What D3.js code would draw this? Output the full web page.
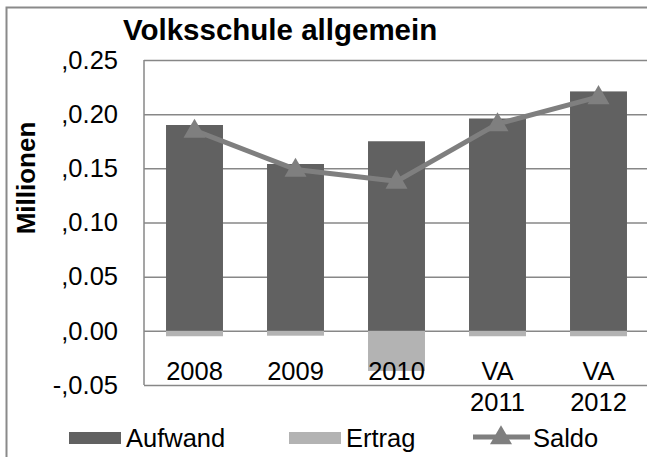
<!DOCTYPE html>
<html>
<head>
<meta charset="utf-8">
<script src="https://cdn.jsdelivr.net/npm/d3@7"></script>
<style>
  html, body { margin: 0; padding: 0; background: #fff; }
  svg { display: block; font-family: "Liberation Sans", Arial, sans-serif; }
</style>
</head>
<body>
<svg id="chart" width="647" height="457"></svg>
<script>
// ---- data ----
const categories = [["2008"], ["2009"], ["2010"], ["VA", "2011"], ["VA", "2012"]];
const aufwand = [0.190, 0.154, 0.175, 0.196, 0.221];
const ertrag = [-0.005, -0.0045, -0.037, -0.005, -0.005];
const saldo = [0.185, 0.149, 0.138, 0.191, 0.216];
const yTickValues = [-0.05, 0, 0.05, 0.10, 0.15, 0.20, 0.25];
const yTickLabels = ["-,0.05", ",0.00", ",0.05", ",0.10", ",0.15", ",0.20", ",0.25"];
const seriesNames = ["Aufwand", "Ertrag", "Saldo"];
const chartTitle = "Volksschule allgemein";
const yTitle = "Millionen";

// ---- layout ----
const svg = d3.select("#chart");
const plot = { left: 144, right: 649, top: 60, bottom: 385 };
const colAuf = "#616161", colErt = "#b3b3b3", colSaldo = "#7f7f7f", colGrid = "#878787";
const fs = 25.5;

const idx = categories.map((d, i) => i);
const x = d3.scaleBand().domain(idx).range([plot.left, plot.right])
  .paddingInner(0.436).paddingOuter(0.218);
const y = d3.scaleLinear().domain([-0.05, 0.25]).range([plot.bottom, plot.top]);

// outer frame (only left/top visible)
svg.append("rect").attr("x", 6.5).attr("y", 7.5).attr("width", 700).attr("height", 500)
  .attr("fill", "none").attr("stroke", "#8a8a8a").attr("stroke-width", 2);

// gridlines
const grid = svg.append("g").attr("transform", `translate(${plot.left},0)`)
  .call(d3.axisLeft(y).tickValues(yTickValues).tickSize(-(plot.right - plot.left)).tickFormat(""));
grid.select(".domain").remove();
grid.selectAll("line").attr("stroke", colGrid).attr("stroke-width", 1.5);

// left plot border
svg.append("line").attr("x1", plot.left).attr("x2", plot.left)
  .attr("y1", plot.top).attr("y2", plot.bottom)
  .attr("stroke", colGrid).attr("stroke-width", 1.5);

// y tick labels
const yAx = svg.append("g").attr("transform", `translate(118,0)`)
  .call(d3.axisLeft(y).tickValues(yTickValues).tickSize(0).tickPadding(0)
    .tickFormat((d, i) => yTickLabels[i]));
yAx.select(".domain").remove();
yAx.selectAll("text").attr("font-size", fs).attr("fill", "#000")
  .attr("font-family", "'Liberation Sans', Arial, sans-serif");

// bars
svg.append("g").selectAll("rect").data(ertrag).join("rect")
  .attr("x", (d, i) => x(i)).attr("width", x.bandwidth())
  .attr("y", d => y(Math.max(0, d))).attr("height", d => Math.abs(y(d) - y(0)))
  .attr("fill", colErt);
svg.append("g").selectAll("rect").data(aufwand).join("rect")
  .attr("x", (d, i) => x(i)).attr("width", x.bandwidth())
  .attr("y", d => y(d)).attr("height", d => y(0) - y(d))
  .attr("fill", colAuf);

// x labels
const xl = svg.append("g").selectAll("text").data(categories).join("text")
  .attr("text-anchor", "middle").attr("font-size", fs).attr("fill", "#000");
xl.each(function (d, i) {
  const t = d3.select(this);
  d.forEach((line, k) => {
    t.append("tspan").attr("x", x(i) + x.bandwidth() / 2).attr("y", 380 + k * 31).text(line);
  });
});

// saldo line
const line = d3.line().x((d, i) => x(i) + x.bandwidth() / 2).y(d => y(d));
svg.append("path").datum(saldo).attr("d", line).attr("fill", "none")
  .attr("stroke", colSaldo).attr("stroke-width", 5).attr("stroke-linejoin", "round");
const tri = d3.symbol().type(d3.symbolTriangle).size(210);
svg.append("g").selectAll("path").data(saldo).join("path")
  .attr("d", tri)
  .attr("transform", (d, i) => `translate(${x(i) + x.bandwidth() / 2},${y(d) + 1})`)
  .attr("fill", colSaldo);

// title
svg.append("text").attr("x", 123).attr("y", 40).attr("font-size", 29.5)
  .attr("font-weight", "bold").attr("fill", "#000").text(chartTitle);

// y title
svg.append("text").attr("transform", "translate(35,178) rotate(-90)")
  .attr("text-anchor", "middle").attr("font-size", 26).attr("font-weight", "bold")
  .attr("fill", "#000").text(yTitle);

// legend
const lg = svg.append("g");
const legY = 438;
lg.append("rect").attr("x", 69).attr("y", legY - 6).attr("width", 52).attr("height", 12).attr("fill", colAuf);
lg.append("text").attr("x", 126).attr("y", 447).attr("font-size", fs).text(seriesNames[0]);
lg.append("rect").attr("x", 289).attr("y", legY - 6).attr("width", 52).attr("height", 12).attr("fill", colErt);
lg.append("text").attr("x", 346).attr("y", 447).attr("font-size", fs).text(seriesNames[1]);
lg.append("line").attr("x1", 473).attr("x2", 530).attr("y1", legY - 1).attr("y2", legY - 1)
  .attr("stroke", colSaldo).attr("stroke-width", 5);
lg.append("path").attr("d", tri).attr("transform", `translate(501,${legY})`).attr("fill", colSaldo);
lg.append("text").attr("x", 533).attr("y", 447).attr("font-size", fs).text(seriesNames[2]);
</script>
</body>
</html>
